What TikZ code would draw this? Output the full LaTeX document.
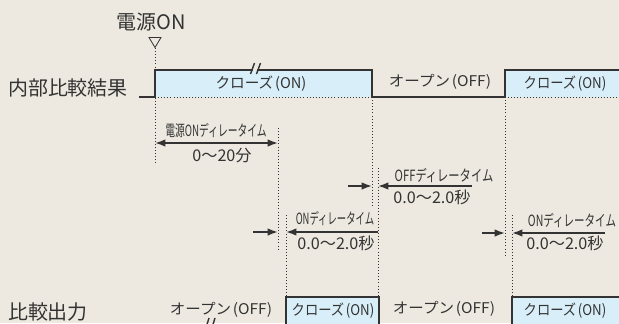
\documentclass[tikz,border=0pt]{standalone}
\usepackage{fontspec}
\setmainfont{Noto Sans CJK JP}
\usetikzlibrary{arrows.meta,positioning}
\definecolor{bg_paper}{HTML}{EDE9E0}
\definecolor{sig_fill}{HTML}{D8EEF8}
\definecolor{sig_ink}{HTML}{333333}
\tikzset{
        % Signal lines
        sig_line/.style={draw=sig_ink, line width=1.4pt, line join=miter},
        % Dotted time marks
        time_mark/.style={draw=sig_ink, line width=0.7pt, dash pattern=on 0.7pt off 1.5pt},
        % Delay arrows (one head)
        delay_arrow/.style={draw=sig_ink, line width=1.2pt, -{Latex[length=2.6mm,width=1.9mm]}},
        % Delay arrows (two heads)
        delay_both/.style={draw=sig_ink, line width=1.2pt, {Latex[length=2.6mm,width=1.9mm]}-{Latex[length=2.6mm,width=1.9mm]}},
        % Signal names
        label_big/.style={inner sep=0pt, text=sig_ink, font=\fontsize{14.2}{16}\selectfont},
        % Closed state texts
        state_on/.style={inner sep=0pt, text=sig_ink, font=\fontsize{10.5}{12}\selectfont, xscale=0.9},
        % Open state texts
        state_off/.style={inner sep=0pt, text=sig_ink, font=\fontsize{10.5}{12}\selectfont, xscale=1.05},
        % Delay names
        delay_name/.style={inner sep=0pt, text=sig_ink, font=\fontsize{11}{13}\selectfont, xscale=0.68},
        % Delay values
        delay_value/.style={inner sep=0pt, text=sig_ink, font=\fontsize{11.5}{13}\selectfont}
}
\newcommand{\stclose}{クローズ\kern0.12em(ON)}
\newcommand{\stopen}{オープン\kern0.12em(OFF)}
\begin{document}
\begin{tikzpicture}[x=0.025cm, y=-0.025cm]
            \fill[bg_paper] (0,0) rectangle (619,323);
            \useasboundingbox (0,0) rectangle (619,323);
            \clip (0,0) rectangle (619,323);
            % closed boxes
            \fill[sig_fill] (155,70) rectangle (372,97);
            \fill[sig_fill] (505,70) rectangle (625,97);
            \fill[sig_fill] (286,297) rectangle (379,330);
            \fill[sig_fill] (512,297) rectangle (625,330);
            % time marks
            \draw[time_mark] (155,48) -- (155,163);
            \draw[time_mark] (278,128) -- (278,250);
            \draw[time_mark] (286,215) -- (286,297);
            \draw[time_mark] (372,97) -- (372,208);
            \draw[time_mark] (378,168) -- (378,297);
            \draw[time_mark] (505,97) -- (505,255);
            \draw[time_mark] (512,215) -- (512,297);
            \draw[time_mark] (155,97) -- (372,97);
            \draw[time_mark] (505,97) -- (625,97);
            % power on mark
            \draw[sig_ink, line width=0.6pt] (149,37.5) -- (161,37.5) -- (155,47.5) -- cycle;
            % signals
            \draw[sig_line] (139,97) -- (155,97) -- (155,70) -- (372,70) -- (372,97)
                -- (505,97) -- (505,70) -- (625,70);
            \draw[sig_line] (190,324.5) -- (286,324.5) -- (286,297) -- (379,297) -- (379,324.5)
                -- (512,324.5) -- (512,297) -- (625,297);
            % breaks
            \fill[bg_paper] (253.5,68.6) -- (257.5,68.6) -- (256.5,71.4) -- (252.5,71.4) -- cycle;
            \draw[sig_ink, line width=1pt] (250.5,74) -- (254.5,63) (256.5,74) -- (260.5,63);
            \draw[sig_ink, line width=1pt] (205,331) -- (209,318) (211,331) -- (215,318);

            \node[label_big] (lbl_power) at (151,22.5) {電源ON};
            \node[label_big] (lbl_internal) at (68,87.5) {内部比較結果};
            \node[label_big] (lbl_output) at (48,311.5) {比較出力};

            \node[state_on, xscale=1.1] (st_close_a) at (261,84) {\stclose};
            \node[state_off] (st_open_a) at (440,82) {\stopen};
            \node[state_on] (st_close_b) at (565,84) {\stclose};
            \node[state_off] (st_open_b) at (221,310) {\stopen};
            \node[state_on] (st_close_c) at (333,311) {\stclose};
            \node[state_off] (st_open_c) at (444,309) {\stopen};
            \node[state_on] (st_close_d) at (565,311) {\stclose};

            % power on delay
            \coordinate (pd_l) at (155,143);
            \coordinate (pd_r) at (278,143);
            \draw[delay_both] (pd_l) -- (pd_r);
            \node[delay_name, xscale=0.93] (pd_name) at (216,131) {電源ONディレータイム};
            \node[delay_value] (pd_value) at (222,155.5) {0〜20分};

            % off delay
            \coordinate (fd_in) at (348,186);
            \coordinate (fd_a) at (372,186);
            \coordinate (fd_b) at (378,186);
            \coordinate (fd_out) at (472,186);
            \draw[delay_arrow] (fd_in) -- (fd_a);
            \draw[delay_arrow] (fd_out) -- (fd_b);
            \node[delay_name, xscale=1.07] (fd_name) at (444,175.5) {OFFディレータイム};
            \node[delay_value] (fd_value) at (432,197.5) {0.0〜2.0秒};

            % first on delay
            \coordinate (na_in) at (253,232);
            \coordinate (na_a) at (278,232);
            \coordinate (na_b) at (286,232);
            \coordinate (na_out) at (378,232);
            \draw[delay_arrow] (na_in) -- (na_a);
            \draw[delay_arrow] (na_out) -- (na_b);
            \node[delay_name, xscale=0.89] (na_name) at (335,218.5) {ONディレータイム};
            \node[delay_value] (na_value) at (336,243) {0.0〜2.0秒};

            % second on delay
            \coordinate (nb_in) at (482,233);
            \coordinate (nb_a) at (505,233);
            \coordinate (nb_b) at (512,233);
            \coordinate (nb_out) at (605,233);
            \draw[delay_arrow] (nb_in) -- (nb_a);
            \draw[delay_arrow] (nb_out) -- (nb_b);
            \node[delay_name] (nb_name) at (572,221) {ONディレータイム};
            \node[delay_value] (nb_value) at (565,243) {0.0〜2.0秒};
\end{tikzpicture}
\end{document}
